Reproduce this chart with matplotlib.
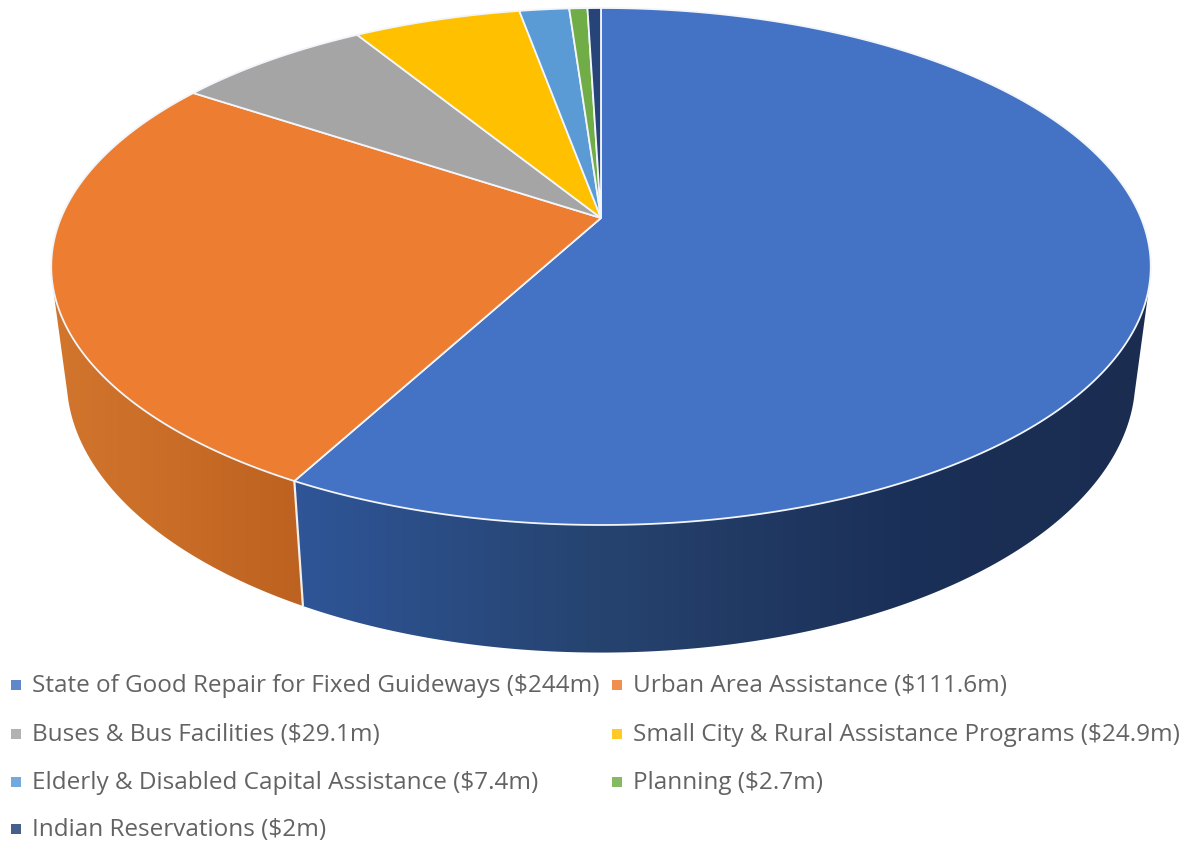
import numpy as np
import matplotlib
matplotlib.use('Agg')
import matplotlib.pyplot as plt
from matplotlib.patches import Polygon
from matplotlib.colors import to_rgb

categories = ['State of Good Repair for Fixed Guideways', 'Urban Area Assistance',
              'Buses & Bus Facilities', 'Small City & Rural Assistance Programs',
              'Elderly & Disabled Capital Assistance', 'Planning', 'Indian Reservations']
value_labels = ['$244m', '$111.6m', '$29.1m', '$24.9m', '$7.4m', '$2.7m', '$2m']
values = [244, 111.6, 29.1, 24.9, 7.4, 2.7, 2]
colors = ['#4472C4', '#ED7D31', '#A5A5A5', '#FFC000', '#5B9BD5', '#70AD47', '#264478']

# pie geometry in pixels, y pointing down
CX, CY = 601, 218
RX, RY, PERSP = 540, 249.4, 0.1876
SHRINK_X = 0.972
DROP, STRETCH_Y, REF_Y = 125, 1.06, 482
# angle where the wall silhouette leaves the top rim
T_SIL = 1.814


def rim(theta):
    # theta is clockwise from 12 o'clock, circle tilted back with perspective
    u, v = np.sin(theta), np.cos(theta)
    w = 1 + PERSP * v
    return CX + RX * u / w, CY - RY * v / w


def lower(x, y):
    return CX + (x - CX) * SHRINK_X, REF_Y + DROP + (y - REF_Y) * STRETCH_Y


def side(ax, t0, t1, stops_x, stops_c):
    # side wall: horizontal gradient image clipped to the band between the two rims
    t = np.linspace(t0, t1, 400)
    x, y = rim(t)
    xb, yb = lower(x, y)
    outline = np.c_[np.r_[x, xb[::-1]], np.r_[y, yb[::-1]]]
    rgb = np.array([to_rgb(c) for c in stops_c])
    xs = np.arange(0, 1185)
    grad = np.stack([np.interp(xs, stops_x, rgb[:, k]) for k in range(3)], axis=1)[None, :, :]
    im = ax.imshow(grad, extent=[0, 1185, 841, 0], aspect='auto', interpolation='bilinear', zorder=1)
    im.set_clip_path(Polygon(outline, closed=True, transform=ax.transData))


fig = plt.figure(figsize=(11.85, 8.41), dpi=100)
ax = fig.add_axes([0, 0, 1, 1])
ax.axis('off')

edges = np.concatenate([[0], np.cumsum(values)]) / np.sum(values) * 2 * np.pi

side(ax, T_SIL, edges[1], [303, 600, 900, 1140],
     ['#2F5597', '#26436F', '#1B3058', '#1A2C50'])
side(ax, edges[1], 2 * np.pi - T_SIL, [55, 180, 294],
     ['#D2752D', '#C86C27', '#BD6220'])

ax.set_xlim(0, 1185)
ax.set_ylim(841, 0)

# white seam between the two visible walls
sx, sy = rim(edges[1])
bx, by = lower(sx, sy)
ax.plot([sx, bx], [sy, by], color='#F4EEE8', lw=1.6, solid_capstyle='butt', zorder=2)

# top face
for i in range(len(values)):
    t = np.linspace(edges[i], edges[i + 1], 300)
    x, y = rim(t)
    ax.fill(np.r_[CX, x], np.r_[CY, y], facecolor=colors[i], edgecolor='#F2F5FA',
            lw=1.3, joinstyle='miter', zorder=3)

# legend, two columns
row_y = [686, 735, 783, 830]
col_x = [11, 612]
for i, (name, val) in enumerate(zip(categories, value_labels)):
    lx = col_x[i % 2]
    ly = row_y[i // 2]
    ax.fill([lx, lx + 10, lx + 10, lx], [ly - 6, ly - 6, ly + 4, ly + 4], color=colors[i], alpha=0.85, lw=0)
    ax.text(lx + 21, ly, name + ' (\\' + val + ')', family='Open Sans', fontsize=17.5,
            color='#636363', va='center', ha='left')

fig.savefig('out.png', dpi=100)
